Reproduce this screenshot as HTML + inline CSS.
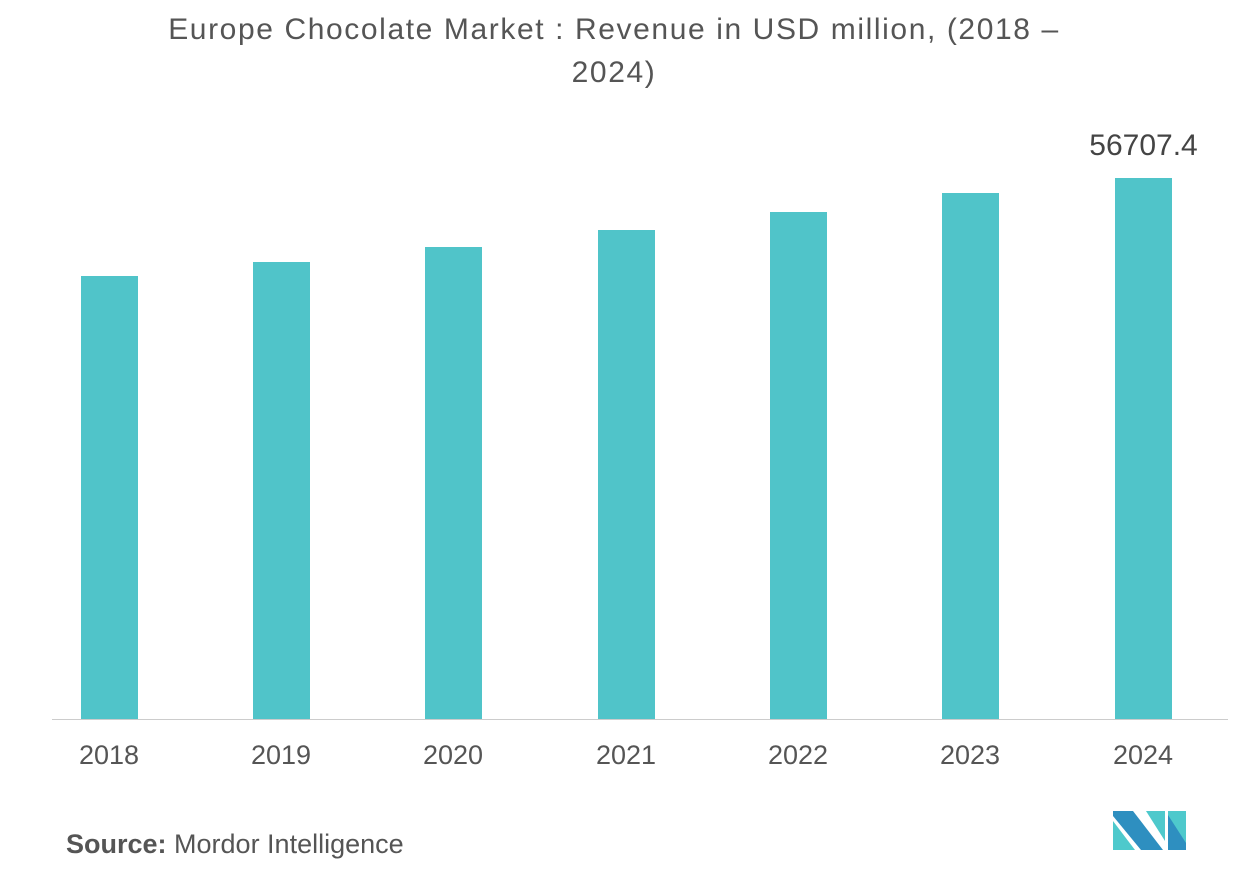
<!DOCTYPE html>
<html><head><style>
body{margin:0;width:1252px;height:881px;background:#fff;font-family:"Liberation Sans",sans-serif;position:relative;overflow:hidden}
.t{position:absolute;left:0;width:1228px;text-align:center;color:#555;font-size:30px;letter-spacing:1.6px;line-height:43px;top:8px}
.bar{position:absolute;background:#50c4c9;width:57px;bottom:162px}
.lb{position:absolute;top:740px;width:100px;text-align:center;font-size:27px;color:#555}
</style></head><body>
<div class="t">Europe Chocolate Market : Revenue in USD million, (2018 –<br>2024)</div>
<div class="bar" style="left:81px;top:276px"></div>
<div class="bar" style="left:253px;top:262px"></div>
<div class="bar" style="left:425px;top:247px"></div>
<div class="bar" style="left:598px;top:230px"></div>
<div class="bar" style="left:770px;top:212px"></div>
<div class="bar" style="left:942px;top:193px"></div>
<div class="bar" style="left:1115px;top:178px"></div>
<div style="position:absolute;left:52px;top:719px;width:1176px;height:1px;background:#ccc"></div>
<div class="lb" style="left:59px">2018</div>
<div class="lb" style="left:231px">2019</div>
<div class="lb" style="left:403px">2020</div>
<div class="lb" style="left:576px">2021</div>
<div class="lb" style="left:748px">2022</div>
<div class="lb" style="left:920px">2023</div>
<div class="lb" style="left:1093px">2024</div>
<div style="position:absolute;left:1060px;top:129px;width:167px;text-align:center;font-size:30px;color:#444">56707.4</div>
<div style="position:absolute;left:66px;top:829px;font-size:27px;color:#555"><b>Source:</b> Mordor Intelligence</div>
<svg style="position:absolute;left:1113px;top:811px" width="74" height="40">
<polygon points="0,0 20,0 50,39 28,39 0,5" fill="#2e8fc0"/>
<polygon points="0,10 22,39 0,39" fill="#4ec9cc"/>
<polygon points="33,0 52,0 52,30" fill="#4ec9cc"/>
<polygon points="55,0 73,0 73,39 55,39" fill="#4ec9cc"/>
<polygon points="55,4 73,32 73,39 55,39" fill="#2e8fc0"/>
</svg>
</body></html>
